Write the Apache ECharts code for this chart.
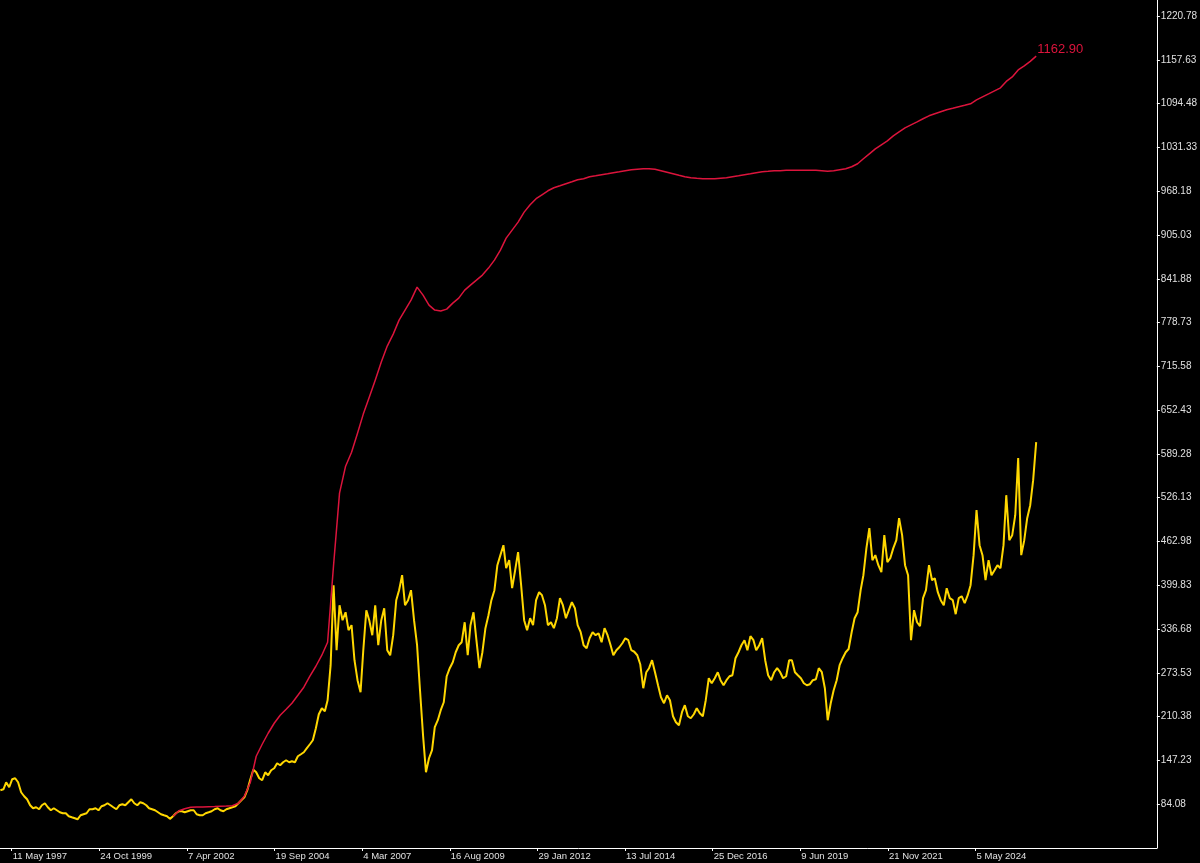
<!DOCTYPE html>
<html>
<head>
<meta charset="utf-8">
<script src="https://cdn.jsdelivr.net/npm/echarts@6/dist/echarts.min.js"></script>
<style>
html,body{margin:0;padding:0;background:#000;}
#chart{width:1200px;height:863px;}
</style>
</head>
<body>
<div id="chart"></div>
<script>
// Monthly series starting January 1997 (one value per month, mid-month)
const yellowStart = [1997, 0];
const yellowValues = [
104.3,105.7,115.8,108.6,120.1,121.6,115.8,101.4,95.6,91.3,
82.6,78.3,79.8,76.9,82.6,85.5,79.8,75.4,78.3,75.4,
72.5,71.1,71.1,66.8,65.3,63.9,62.4,68.2,69.7,71.1,
76.9,76.9,78.3,75.4,81.2,82.6,85.5,82.6,79.8,76.9,
82.6,84.1,82.6,87.0,91.3,85.5,82.6,87.0,85.5,82.6,
78.3,76.9,75.4,72.5,69.7,68.2,66.8,63.0,66.8,71.1,
74.0,74.0,72.5,74.0,75.4,75.4,69.7,68.2,68.2,71.1,
72.5,74.0,76.9,78.3,75.4,74.0,76.9,78.3,79.8,81.2,
85.5,89.9,94.2,104.3,120.1,134.0,130.2,121.6,118.7,130.2,
125.9,133.1,136.0,143.2,140.3,144.7,147.5,144.7,146.1,144.7,
153.3,156.2,159.1,164.9,170.6,176.4,193.7,213.9,222.6,218.2,
234.1,284.6,400.0,306.2,371.1,349.5,361.0,335.1,342.3,291.8,
263.0,245.6,306.2,363.9,349.5,327.9,371.1,313.4,349.5,366.8,
306.2,299.0,327.9,378.4,392.8,414.4,371.1,378.4,392.8,349.5,
313.4,248.5,183.6,130.2,150.4,162.0,195.2,205.3,219.7,231.2,
268.7,280.3,288.9,303.3,313.4,317.8,346.6,299.0,342.3,361.0,
320.7,280.3,303.3,338.0,356.7,378.4,392.8,428.8,443.3,457.7,
424.5,436.1,395.7,421.6,447.6,400.0,349.5,335.1,352.4,342.3,
378.4,389.9,385.6,371.1,342.3,346.6,338.0,352.4,381.3,371.1,
352.4,363.9,375.5,366.8,342.3,332.2,313.4,309.1,323.5,332.2,
327.9,330.7,317.8,338.0,327.9,313.4,299.0,306.2,310.5,316.3,
323.5,320.7,306.2,304.0,299.0,286.0,251.4,274.5,280.3,291.8,
274.5,255.7,238.4,229.8,241.3,234.1,211.0,202.4,198.0,216.8,
226.9,211.0,208.1,213.9,222.6,215.3,211.0,234.1,265.8,258.6,
265.8,274.5,263.0,255.7,263.0,268.7,270.2,294.7,303.3,313.4,
320.7,306.2,326.4,320.7,306.2,313.4,323.5,291.8,270.2,263.0,
274.5,280.3,274.5,265.8,268.7,291.8,291.8,274.5,270.2,265.8,
258.6,255.7,257.2,263.0,264.4,280.3,274.5,251.4,205.3,229.8,
248.5,263.0,284.6,294.7,303.3,308.0,332.2,352.4,361.0,392.8,
414.4,453.4,482.2,436.1,443.3,428.8,418.7,472.1,433.2,438.9,
453.4,464.9,496.6,472.1,428.8,414.4,320.7,363.9,346.6,340.8,
381.3,392.8,428.8,407.2,410.1,389.9,378.4,371.1,395.7,381.3,
378.4,358.2,381.3,384.1,374.0,385.6,400.0,443.3,508.2,457.7,
443.3,407.2,436.1,414.4,421.6,428.8,424.5,457.7,529.8,464.9,
472.1,500.9,583.2,443.3,464.9,496.6,515.4,551.5,606.3
];

// Red series: one value every 2 months, starting at month index 58 (Nov 2001)
const redStartMonth = 58;
const redStepMonths = 2;
const redValues = [
66.8,74.7,77.6,79.8,80.2,80.2,80.5,80.8,81.2,81.5,
81.9,85.5,95.6,115.8,153.3,170.6,186.5,200.9,212.5,221.1,
229.8,241.3,252.9,268.7,283.1,299.0,317.8,428.8,532.7,571.6,
591.8,619.2,646.7,671.2,695.7,721.7,744.8,762.1,782.3,796.7,
811.1,829.9,818.3,803.9,796.7,795.3,798.1,806.8,814.0,825.5,
832.7,839.9,847.2,857.3,868.8,883.2,900.5,912.1,923.6,938.0,
948.6,957.3,963.0,968.8,973.1,976.0,978.9,981.8,984.7,986.1,
989.0,990.4,991.9,993.3,994.8,996.2,997.7,999.1,999.8,1000.5,
1000.5,999.8,997.7,995.5,993.3,991.1,989.0,987.5,986.8,986.1,
986.1,986.1,986.8,987.5,989.0,990.4,991.9,993.3,994.8,996.2,
996.9,997.7,997.7,998.4,998.4,998.4,998.4,998.4,998.4,997.7,
996.9,997.7,999.1,1000.5,1003.4,1007.7,1014.9,1022.1,1029.3,1035.1,
1040.8,1048.0,1053.8,1059.6,1063.9,1068.2,1072.6,1076.9,1079.8,1082.7,
1085.6,1087.7,1089.9,1092.0,1094.2,1099.9,1104.2,1108.5,1112.9,1117.2,
1126.5,1133.0,1143.1,1148.9,1155.4,1162.90
];

const xTickDates = [[1997,4,11],[1999,9,24],[2002,3,7],[2004,8,19],[2007,2,4],[2009,7,16],
                    [2012,0,29],[2014,6,13],[2016,11,25],[2019,5,9],[2021,10,21],[2024,4,5]];
const xTickLabels = ['11 May 1997','24 Oct 1999','7 Apr 2002','19 Sep 2004','4 Mar 2007','16 Aug 2009',
                     '29 Jan 2012','13 Jul 2014','25 Dec 2016','9 Jun 2019','21 Nov 2021','5 May 2024'];
const yTickValues = [84.08,147.23,210.38,273.53,336.68,399.83,462.98,526.13,589.28,652.43,
                     715.58,778.73,841.88,905.03,968.18,1031.33,1094.48,1157.63,1220.78];

const DAY = 86400000;
function dayOf(y, m, d) { return Date.UTC(y, m, d) / DAY; }
function monthX(i) { return dayOf(yellowStart[0], yellowStart[1] + i, 15); }

const xTickPos = xTickDates.map(d => dayOf(d[0], d[1], d[2]));
const yellowData = yellowValues.map((v, i) => [monthX(i), v]);
const redData = redValues.map((v, k) => [monthX(redStartMonth + redStepMonths * k), v]);

const chart = echarts.init(document.getElementById('chart'), null, {renderer: 'canvas'});
const axisColor = '#ffffff';
const textColor = '#e0e0e0';
chart.setOption({
  backgroundColor: '#000000',
  animation: false,
  grid: {left: 0, right: 43, top: 0, bottom: 15, containLabel: false},
  xAxis: {
    type: 'value',
    min: dayOf(1997, 0, 11),
    max: dayOf(2029, 5, 2),
    splitLine: {show: false},
    axisLine: {show: true, lineStyle: {color: axisColor, width: 1}},
    axisTick: {show: true, length: 3, customValues: xTickPos, lineStyle: {color: axisColor}},
    axisLabel: {
      customValues: xTickPos,
      color: textColor,
      fontSize: 9.5,
      fontFamily: 'Liberation Sans, Arial, sans-serif',
      align: 'left',
      margin: 3,
      padding: [0, 0, 0, 1],
      formatter: function (v) {
        let best = 0;
        for (let i = 0; i < xTickPos.length; i++) {
          if (Math.abs(xTickPos[i] - v) < Math.abs(xTickPos[best] - v)) best = i;
        }
        return xTickLabels[best];
      }
    }
  },
  yAxis: {
    type: 'value',
    position: 'right',
    min: 21.0,
    max: 1243.9,
    splitLine: {show: false},
    axisLine: {show: true, lineStyle: {color: axisColor, width: 1}},
    axisTick: {show: true, length: 3, customValues: yTickValues, lineStyle: {color: axisColor}},
    axisLabel: {
      customValues: yTickValues,
      color: textColor,
      fontSize: 10,
      fontFamily: 'Liberation Sans, Arial, sans-serif',
      margin: 4,
      formatter: function (v) { return v.toFixed(2); }
    }
  },
  series: [
    {
      name: 'price',
      type: 'line',
      data: yellowData,
      showSymbol: false,
      symbol: 'none',
      lineStyle: {color: '#ffd700', width: 2},
      itemStyle: {color: '#ffd700'}
    },
    {
      name: 'envelope',
      type: 'line',
      data: redData,
      showSymbol: false,
      symbol: 'none',
      lineStyle: {color: '#dc143c', width: 1.5},
      itemStyle: {color: '#dc143c'},
      endLabel: {
        show: true,
        color: '#dc143c',
        fontSize: 13,
        fontFamily: 'Liberation Sans, Arial, sans-serif',
        distance: 1,
        offset: [0, -7],
        formatter: function (p) { return p.value[1].toFixed(2); }
      }
    }
  ]
});
</script>
</body>
</html>
